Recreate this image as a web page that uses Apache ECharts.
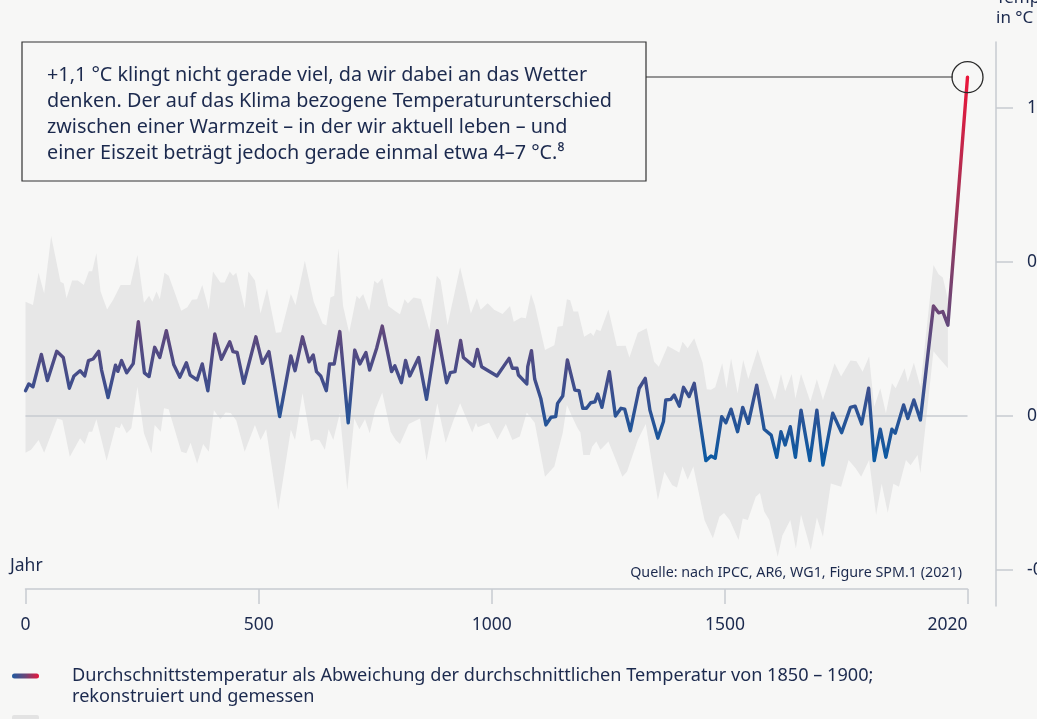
<!DOCTYPE html>
<html>
<head>
<meta charset="utf-8">
<script src="https://cdn.jsdelivr.net/npm/echarts@6/dist/echarts.min.js"></script>
<style>
html,body{margin:0;padding:0;background:#f7f7f6;}
#chart{width:1037px;height:719px;}
</style>
</head>
<body>
<div id="chart"></div>
<script>
// ---- data ----
const lineYears = [0,7,16,34,47,67,81,94,104,117,127,135,145,157,163,177,193,198,206,217,231,242,255,265,277,288,302,318,331,345,353,368,379,391,406,420,438,445,454,468,494,508,522,545,569,578,594,608,617,624,633,645,652,662,674,692,706,717,730,738,753,765,785,792,806,815,824,843,860,883,903,911,921,933,939,961,969,978,1011,1037,1044,1054,1057,1075,1077,1085,1092,1105,1116,1127,1137,1141,1152,1162,1178,1187,1195,1203,1212,1221,1227,1236,1252,1265,1277,1285,1297,1316,1329,1339,1356,1368,1373,1384,1391,1402,1411,1423,1434,1459,1470,1479,1493,1502,1513,1527,1538,1550,1568,1584,1599,1611,1620,1629,1640,1651,1663,1682,1697,1710,1731,1750,1769,1779,1793,1808,1820,1833,1845,1858,1865,1883,1892,1905,1919,1947,1958,1967,1978,2020];
const lineValues = [0.082,0.104,0.095,0.20,0.115,0.21,0.19,0.09,0.13,0.147,0.13,0.18,0.185,0.21,0.15,0.06,0.165,0.145,0.18,0.14,0.17,0.306,0.14,0.128,0.223,0.19,0.277,0.166,0.126,0.173,0.133,0.117,0.169,0.082,0.266,0.184,0.241,0.209,0.206,0.106,0.257,0.171,0.209,-0.002,0.195,0.147,0.257,0.176,0.198,0.144,0.13,0.082,0.169,0.169,0.274,-0.022,0.214,0.169,0.206,0.149,0.22,0.292,0.144,0.163,0.108,0.18,0.13,0.19,0.054,0.277,0.108,0.141,0.144,0.245,0.19,0.162,0.216,0.16,0.13,0.187,0.155,0.155,0.133,0.104,0.16,0.212,0.119,0.057,-0.029,-0.004,-0.002,0.041,0.065,0.182,0.084,0.082,0.025,0.025,0.043,0.046,0.071,0.028,0.144,0.0,0.025,0.022,-0.048,0.09,0.122,0.019,-0.072,-0.018,0.052,0.054,0.068,0.032,0.093,0.063,0.106,-0.145,-0.13,-0.137,-0.002,-0.022,0.022,-0.051,0.028,-0.024,0.1,-0.043,-0.062,-0.134,-0.051,-0.094,-0.035,-0.134,0.019,-0.145,0.019,-0.159,0.009,-0.054,0.028,0.032,-0.026,0.09,-0.145,-0.043,-0.134,-0.043,-0.056,0.036,-0.008,0.052,-0.013,0.357,0.335,0.339,0.295,1.10];

const bandUpYears = [0,16,28,40,55,75,82,88,100,112,125,136,143,152,161,175,188,204,225,240,254,265,272,281,288,298,307,334,347,357,368,379,393,402,418,427,438,445,452,470,478,492,504,518,537,548,569,579,599,618,637,645,654,662,671,681,694,710,716,724,737,748,755,765,778,794,803,813,820,832,848,866,882,890,905,932,955,968,976,991,1005,1023,1039,1047,1063,1073,1084,1092,1114,1134,1141,1152,1161,1168,1175,1185,1198,1212,1218,1224,1233,1250,1268,1287,1295,1313,1332,1348,1358,1377,1402,1409,1420,1434,1452,1461,1470,1479,1494,1503,1513,1527,1539,1550,1570,1590,1607,1620,1629,1643,1651,1663,1683,1697,1710,1735,1749,1769,1782,1795,1809,1820,1833,1845,1858,1866,1885,1892,1905,1919,1947,1958,1967,1978];
const bandUp = [0.371,0.36,0.465,0.398,0.584,0.436,0.43,0.382,0.44,0.44,0.425,0.47,0.47,0.528,0.404,0.346,0.377,0.425,0.425,0.523,0.368,0.39,0.371,0.404,0.379,0.465,0.455,0.342,0.353,0.377,0.379,0.425,0.346,0.469,0.433,0.433,0.469,0.455,0.465,0.35,0.469,0.44,0.333,0.414,0.27,0.272,0.396,0.36,0.504,0.371,0.3,0.294,0.385,0.39,0.544,0.357,0.27,0.39,0.38,0.396,0.342,0.439,0.43,0.447,0.357,0.339,0.33,0.379,0.365,0.385,0.38,0.279,0.455,0.44,0.295,0.483,0.333,0.382,0.345,0.366,0.345,0.331,0.357,0.306,0.32,0.317,0.396,0.36,0.214,0.23,0.29,0.292,0.379,0.376,0.339,0.339,0.257,0.27,0.26,0.281,0.276,0.346,0.227,0.228,0.19,0.27,0.285,0.176,0.16,0.227,0.206,0.241,0.22,0.252,0.173,0.087,0.085,0.093,0.171,0.09,0.187,0.074,0.182,0.12,0.216,0.12,0.052,0.136,0.08,0.136,0.057,0.136,0.046,0.119,0.052,0.171,0.128,0.18,0.178,0.144,0.193,0.03,0.09,0.009,0.106,0.09,0.155,0.11,0.173,0.095,0.49,0.46,0.45,0.38];

const bandLowYears = [0,12,28,40,68,79,95,117,127,136,143,152,174,193,202,206,217,227,240,254,270,277,290,297,307,334,345,354,368,381,393,404,418,429,440,452,470,492,504,516,542,569,578,594,612,620,630,642,650,660,674,690,705,716,728,738,750,765,783,794,803,822,846,860,883,901,918,932,958,966,970,994,1012,1030,1044,1060,1075,1092,1114,1134,1141,1152,1161,1177,1184,1190,1196,1210,1215,1224,1233,1250,1266,1280,1290,1313,1330,1356,1370,1387,1397,1409,1420,1432,1456,1474,1488,1498,1510,1529,1538,1549,1566,1575,1584,1595,1613,1623,1640,1652,1663,1684,1697,1710,1727,1749,1765,1780,1792,1809,1824,1836,1849,1861,1873,1888,1898,1913,1919,1947,1958,1978];
const bandLow = [-0.119,-0.11,-0.078,-0.119,-0.008,-0.013,-0.132,-0.072,-0.091,-0.051,-0.051,-0.011,-0.145,-0.035,-0.04,-0.024,-0.056,-0.04,0.095,-0.056,-0.121,-0.029,-0.051,0.025,0.022,-0.116,-0.121,-0.087,-0.154,-0.091,-0.116,0.019,-0.011,0.011,0.01,-0.015,-0.116,-0.029,-0.078,-0.043,-0.305,-0.045,-0.078,0.074,-0.083,-0.076,-0.078,-0.11,-0.043,-0.078,0.009,-0.24,-0.008,-0.043,-0.011,-0.056,0.02,0.076,-0.051,-0.078,-0.091,-0.026,-0.008,-0.145,0.041,-0.087,-0.013,0.041,-0.054,-0.022,-0.037,-0.022,-0.076,-0.026,-0.078,-0.067,0.011,-0.022,-0.197,-0.164,-0.12,-0.055,0.036,-0.018,-0.04,-0.054,-0.127,-0.127,-0.1,-0.083,-0.11,-0.083,-0.143,-0.197,-0.18,-0.078,-0.026,-0.273,-0.181,-0.225,-0.232,-0.164,-0.207,-0.164,-0.338,-0.397,-0.327,-0.315,-0.338,-0.403,-0.333,-0.338,-0.262,-0.25,-0.31,-0.338,-0.457,-0.388,-0.338,-0.43,-0.321,-0.435,-0.33,-0.392,-0.219,-0.23,-0.143,-0.17,-0.197,-0.143,-0.321,-0.22,-0.314,-0.22,-0.23,-0.143,-0.16,-0.127,-0.186,0.21,0.19,0.155];

const xTickValues = [0, 500, 1000, 1500, 2020];
const yTickValues = [-0.5, 0, 0.5, 1.0];
const endYear = 2020;
const endValue = 1.10;

// ---- chart ----
const NAVY = '#1c2a4e';
const AXIS = '#c7cbd1';
const FONT = 'Noto Sans';
const chart = echarts.init(document.getElementById('chart'), null, {renderer: 'canvas'});

const lineData = lineYears.map((y, i) => [y, lineValues[i]]);

const option = {
  backgroundColor: '#f7f7f6',
  animation: false,
  textStyle: {fontFamily: FONT, color: NAVY},
  grid: {left: 25.5, right: 69.5, top: 42, bottom: 113, containLabel: false, outerBoundsMode: 'none'},
  xAxis: {
    type: 'value', min: 0, max: 2020, offset: -17,
    axisLine: {show: true, onZero: false, lineStyle: {color: AXIS, width: 1.5}},
    axisTick: {show: true, length: 15, customValues: xTickValues, lineStyle: {color: AXIS, width: 1.5}},
    axisLabel: {customValues: xTickValues, margin: 27, fontSize: 17.5, color: NAVY, fontFamily: FONT,
      alignMaxLabel: 'right', formatter: v => String(v)},
    splitLine: {show: false}
  },
  yAxis: {
    type: 'value', position: 'right', offset: 28.5, min: -0.617, max: 1.2143,
    axisLine: {show: true, onZero: false, lineStyle: {color: AXIS, width: 1.5}},
    axisTick: {show: true, length: 17, customValues: yTickValues, lineStyle: {color: AXIS, width: 1.5}},
    axisLabel: {customValues: yTickValues, margin: 31, fontSize: 17.5, color: NAVY, fontFamily: FONT,
      formatter: v => v.toFixed(1).replace('.', ',')},
    splitLine: {show: false},
    name: 'Temperatur\nin °C', nameLocation: 'end', nameGap: 14,
    nameTextStyle: {align: 'left', verticalAlign: 'bottom', lineHeight: 20, fontSize: 17, color: NAVY, fontFamily: FONT}
  },
  visualMap: {
    show: false, type: 'continuous', seriesIndex: 1, dimension: 1,
    min: -0.15, max: 1.1,
    inRange: {color: ['#0a5aa3', '#3f4e8c', '#6c4676', '#93395f', '#c0284c', '#ea163a']}
  },
  series: [
    {
      type: 'custom', coordinateSystem: 'cartesian2d', silent: true, z: 1,
      data: [[0, 0]],
      renderItem: function (params, api) {
        const pts = [];
        for (let i = 0; i < bandUpYears.length; i++) pts.push(api.coord([bandUpYears[i], bandUp[i]]));
        for (let i = bandLowYears.length - 1; i >= 0; i--) pts.push(api.coord([bandLowYears[i], bandLow[i]]));
        return {type: 'polygon', shape: {points: pts}, style: {fill: '#e7e7e7', stroke: null}};
      }
    },
    {
      type: 'line', z: 3, data: lineData, showSymbol: false, symbol: 'none', smooth: false,
      lineStyle: {width: 3.4, join: 'round', cap: 'round'},
      markLine: {
        silent: true, symbol: 'none', z: 2,
        label: {show: false},
        lineStyle: {color: AXIS, width: 1.5, type: 'solid'},
        data: [{yAxis: 0}]
      },
      markPoint: {
        silent: true, symbol: 'circle', symbolSize: 31,
        itemStyle: {color: 'rgba(0,0,0,0)', borderColor: '#2a2a2a', borderWidth: 1.3},
        label: {show: false},
        data: [{coord: [endYear, endValue]}]
      }
    }
  ],
  graphic: [
    {type: 'rect', shape: {x: 22, y: 42, width: 624, height: 139}, style: {fill: 'rgba(0,0,0,0)', stroke: '#333', lineWidth: 1.2}, z: 10},
    {type: 'line', shape: {x1: 646, y1: 77, x2: 953, y2: 77}, style: {stroke: '#333', lineWidth: 1.2}, z: 10},
    {type: 'text', x: 47, y: 63, z: 10, style: {
      text: '+1,1 °C klingt nicht gerade viel, da wir dabei an das Wetter\ndenken. Der auf das Klima bezogene Temperaturunterschied\nzwischen einer Warmzeit – in der wir aktuell leben – und\neiner Eiszeit beträgt jedoch gerade einmal etwa 4–7 °C.⁸',
      font: '19.8px "' + FONT + '"', lineHeight: 25.7, fill: NAVY, verticalAlign: 'top'}},
    {type: 'text', x: 10, y: 566, z: 10, style: {text: 'Jahr', font: '17.5px "' + FONT + '"', fill: NAVY, verticalAlign: 'middle'}},
    {type: 'text', x: 962, y: 573, z: 10, style: {text: 'Quelle: nach IPCC, AR6, WG1, Figure SPM.1 (2021)', font: '14.3px "' + FONT + '"', fill: NAVY, align: 'right', verticalAlign: 'middle'}},
    {type: 'rect', shape: {x: 12, y: 673.5, width: 27, height: 5, r: 2.5}, z: 10, style: {
      fill: new echarts.graphic.LinearGradient(0, 0, 1, 0, [{offset: 0, color: '#1f5aa0'}, {offset: 0.5, color: '#6a4678'}, {offset: 1, color: '#e8173c'}])}},
    {type: 'text', x: 72, y: 665.5, z: 10, style: {
      text: 'Durchschnittstemperatur als Abweichung der durchschnittlichen Temperatur von 1850 – 1900;\nrekonstruiert und gemessen',
      font: '18.15px "' + FONT + '"', lineHeight: 21, fill: NAVY, verticalAlign: 'top'}},
    {type: 'rect', shape: {x: 12, y: 715, width: 27, height: 10, r: 2}, z: 10, style: {fill: '#e3e3e3'}}
  ]
};
chart.setOption(option);
</script>
</body>
</html>
